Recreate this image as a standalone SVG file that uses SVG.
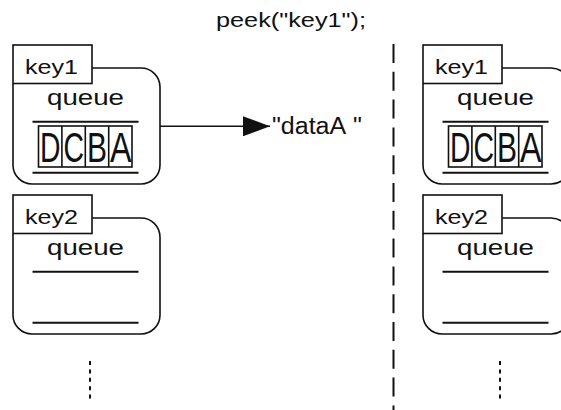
<svg xmlns="http://www.w3.org/2000/svg" width="561" height="410" viewBox="0 0 561 410">
<style>
.t{font-family:"Liberation Sans",Arial,Helvetica,sans-serif;fill:#111}
.box{fill:none;stroke:#111;stroke-width:1.6}
.tab{fill:#fff;stroke:#111;stroke-width:1.6}
.ql{stroke:#111;stroke-width:2}
.cell{fill:none;stroke:#111;stroke-width:1.6}
.dots{stroke:#111;stroke-width:2;stroke-dasharray:4 4.4}
</style>
<defs>
<marker id="ah" markerWidth="27" markerHeight="20" refX="27" refY="10" orient="auto" markerUnits="userSpaceOnUse">
<path d="M0 0 L27 10 L0 20 Z" fill="#111"/>
</marker>
<g id="cont">
<path class="box" d="M92 68 H141 A19 19 0 0 1 160 87 V165 A19 19 0 0 1 141 184 H32 A19 19 0 0 1 13 165 V84"/>
<line class="ql" x1="32.5" y1="121.7" x2="138.5" y2="121.7"/>
<line class="ql" x1="32.5" y1="172.8" x2="138.5" y2="172.8"/>
<text class="t" x="47" y="105" font-size="22" textLength="77" lengthAdjust="spacingAndGlyphs">queue</text>
</g>
<g id="cells">
<rect class="cell" x="38.5" y="126" width="93.5" height="41"/>
<line class="cell" x1="61.9" y1="126" x2="61.9" y2="167"/>
<line class="cell" x1="85.3" y1="126" x2="85.3" y2="167"/>
<line class="cell" x1="108.7" y1="126" x2="108.7" y2="167"/>
<text class="t" x="40" y="162" font-size="42" textLength="20.5" lengthAdjust="spacingAndGlyphs">D</text>
<text class="t" x="63.6" y="162" font-size="42" textLength="20.5" lengthAdjust="spacingAndGlyphs">C</text>
<text class="t" x="87" y="162" font-size="42" textLength="20" lengthAdjust="spacingAndGlyphs">B</text>
<text class="t" x="110" y="162" font-size="42" textLength="21.5" lengthAdjust="spacingAndGlyphs">A</text>
</g>
</defs>
<text id="title" class="t" x="216" y="27" font-size="20" textLength="150" lengthAdjust="spacingAndGlyphs">peek("key1");</text>

<g id="left-key1">
<use href="#cont"/>
<use href="#cells"/>
<rect class="tab" x="13" y="45" width="79" height="38.5"/>
<text class="t" x="25" y="74" font-size="19.5" textLength="53" lengthAdjust="spacingAndGlyphs">key1</text>
</g>
<g id="left-key2" transform="translate(0,150)">
<use href="#cont"/>
<rect class="tab" x="13" y="45" width="79" height="38.5"/>
<text class="t" x="25" y="74" font-size="19.5" textLength="53" lengthAdjust="spacingAndGlyphs">key2</text>
</g>
<g id="right-key1" transform="translate(410,0)">
<use href="#cont"/>
<use href="#cells"/>
<rect class="tab" x="13" y="45" width="79" height="38.5"/>
<text class="t" x="25" y="74" font-size="19.5" textLength="53" lengthAdjust="spacingAndGlyphs">key1</text>
</g>
<g id="right-key2" transform="translate(410,150)">
<use href="#cont"/>
<rect class="tab" x="13" y="45" width="79" height="38.5"/>
<text class="t" x="25" y="74" font-size="19.5" textLength="53" lengthAdjust="spacingAndGlyphs">key2</text>
</g>
<g id="result">
<text class="t" x="272" y="134" font-size="23" textLength="90" lengthAdjust="spacingAndGlyphs">"dataA&#160;"</text>
</g>
<g id="connectors">
<line x1="160" y1="126.3" x2="270" y2="126.3" stroke="#111" stroke-width="1.6" marker-end="url(#ah)"/>
<line x1="393.5" y1="44" x2="393.5" y2="410" stroke="#111" stroke-width="2" stroke-dasharray="19 8.8"/>
<line class="dots" x1="90" y1="361" x2="90" y2="400"/>
<line class="dots" x1="500" y1="361" x2="500" y2="400"/>
</g>
</svg>
